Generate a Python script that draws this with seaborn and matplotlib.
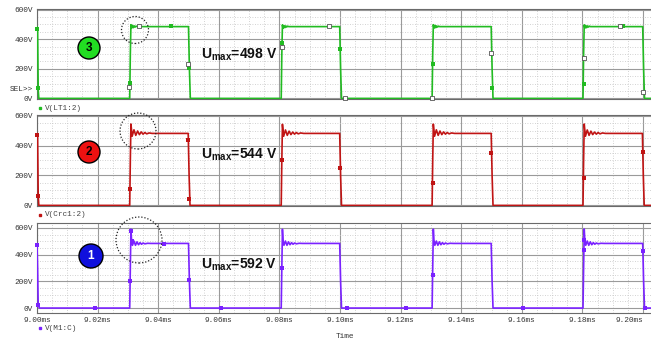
import numpy as np
import pandas as pd
import matplotlib
matplotlib.use("Agg")
import matplotlib.pyplot as plt
import seaborn as sns
from matplotlib.patches import Ellipse
from matplotlib.lines import Line2D

# ---------------- data (time in ms, voltage in V) ----------------
green_t = [9.0000, 9.0002, 9.0004, 9.0006,
           9.0306, 9.0308, 9.0310, 9.0312, 9.0315, 9.0318, 9.0321, 9.0324, 9.0327, 9.0331, 9.0500, 9.0503, 9.0506,
           9.0806, 9.0808, 9.0810, 9.0812, 9.0815, 9.0818, 9.0821, 9.0824, 9.0827, 9.0831, 9.0999, 9.1002, 9.1005,
           9.1304, 9.1306, 9.1308, 9.1310, 9.1313, 9.1316, 9.1319, 9.1322, 9.1325, 9.1329, 9.1499, 9.1502, 9.1505,
           9.1802, 9.1804, 9.1806, 9.1808, 9.1811, 9.1814, 9.1817, 9.1820, 9.1823, 9.1827, 9.1999, 9.2002, 9.2005, 9.2040]
green_v = [485, 470, 60, 0,
           0, 300, 498, 474, 493, 478, 490, 482, 488, 485, 485, 200, 0,
           0, 300, 497, 474, 492, 478, 490, 482, 488, 485, 485, 200, 0,
           0, 300, 498, 474, 493, 478, 490, 482, 488, 485, 485, 200, 0,
           0, 300, 497, 474, 492, 478, 490, 482, 488, 485, 485, 200, 0, 0]

red_t = [9.0000, 9.0002, 9.0004, 9.0006,
         9.0306, 9.0308, 9.0310, 9.0314, 9.0320, 9.0326, 9.0332, 9.0338, 9.0344, 9.0350, 9.0356, 9.0362, 9.0370, 9.0380, 9.0499, 9.0502, 9.0505,
         9.0806, 9.0808, 9.0810, 9.0814, 9.0820, 9.0826, 9.0832, 9.0838, 9.0844, 9.0850, 9.0856, 9.0862, 9.0870, 9.0880, 9.0999, 9.1002, 9.1005,
         9.1304, 9.1306, 9.1308, 9.1312, 9.1318, 9.1324, 9.1330, 9.1336, 9.1342, 9.1348, 9.1354, 9.1360, 9.1368, 9.1378, 9.1499, 9.1502, 9.1505,
         9.1802, 9.1804, 9.1806, 9.1810, 9.1816, 9.1822, 9.1828, 9.1834, 9.1840, 9.1846, 9.1852, 9.1858, 9.1866, 9.1876, 9.1998, 9.2001, 9.2004, 9.2040]
red_v = [481, 470, 66, 0,
         0, 300, 544, 462, 505, 468, 497, 473, 491, 476, 487, 478, 484, 481, 481, 200, 0,
         0, 300, 542, 462, 504, 468, 496, 473, 490, 476, 487, 478, 484, 481, 481, 200, 0,
         0, 300, 543, 462, 505, 468, 497, 473, 491, 476, 487, 478, 484, 481, 481, 200, 0,
         0, 300, 544, 462, 504, 468, 496, 473, 490, 476, 487, 478, 484, 481, 481, 200, 0, 0]

blue_t = [9.0000, 9.0002, 9.0004, 9.0008,
          9.0306, 9.0308, 9.0310, 9.0312, 9.0315, 9.0320, 9.0325, 9.0330, 9.0335, 9.0340, 9.0345, 9.0350, 9.0356, 9.0365, 9.0376, 9.0500, 9.0503, 9.0506,
          9.0806, 9.0808, 9.0810, 9.0812, 9.0815, 9.0820, 9.0825, 9.0830, 9.0835, 9.0840, 9.0845, 9.0850, 9.0856, 9.0865, 9.0876, 9.0999, 9.1002, 9.1005,
          9.1304, 9.1306, 9.1308, 9.1310, 9.1313, 9.1318, 9.1323, 9.1328, 9.1333, 9.1338, 9.1343, 9.1348, 9.1354, 9.1363, 9.1374, 9.1499, 9.1502, 9.1505,
          9.1802, 9.1804, 9.1806, 9.1808, 9.1811, 9.1816, 9.1821, 9.1826, 9.1831, 9.1836, 9.1841, 9.1846, 9.1852, 9.1861, 9.1872, 9.1999, 9.2002, 9.2005, 9.2040]
blue_v = [485, 300, 20, 0,
          0, 300, 592, 510, 470, 502, 470, 496, 474, 490, 478, 487, 481, 485, 484, 484, 200, 0,
          0, 300, 590, 510, 470, 502, 470, 496, 474, 490, 478, 487, 481, 485, 484, 484, 200, 0,
          0, 300, 591, 510, 470, 502, 470, 496, 474, 490, 478, 487, 481, 485, 484, 484, 200, 0,
          0, 300, 592, 510, 470, 502, 470, 496, 474, 490, 478, 487, 481, 485, 484, 484, 200, 0, 0]

# trace markers (as drawn by the simulator)
green_fill_t = [9.0001, 9.0004, 9.0307, 9.0442, 9.0501, 9.0809, 9.1000, 9.1307, 9.1502, 9.1805, 9.1934]
green_fill_v = [467, 67, 107, 487, 207, 373, 333, 233, 73, 100, 487]
green_open_t = [9.0304, 9.0337, 9.0498, 9.0808, 9.0963, 9.1017, 9.1304, 9.1498, 9.1805, 9.1924, 9.2000]
green_open_v = [80, 490, 233, 347, 487, 0, 0, 307, 273, 487, 40]

red_mark_t = [9.0001, 9.0004, 9.0307, 9.0498, 9.0502, 9.0808, 9.1000, 9.1306, 9.1499, 9.1805, 9.1999]
red_mark_v = [468, 66, 112, 435, 46, 300, 250, 150, 350, 185, 356]

blue_mark_t = [9.0001, 9.0004, 9.0191, 9.0308, 9.0310, 9.0312, 9.0420, 9.0500, 9.0607, 9.0808, 9.1023, 9.1218, 9.1306, 9.1604, 9.1805, 9.1806, 9.1999, 9.2008]
blue_mark_v = [470, 20, 0, 200, 580, 505, 480, 210, 0, 300, 0, 0, 250, 0, 435, 510, 427, 0]

y_ticks = [0, 200, 400, 600]
y_ticklabels = ["0V", "200V", "400V", "600V"]
x_ticks = [9.00, 9.02, 9.04, 9.06, 9.08, 9.10, 9.12, 9.14, 9.16, 9.18, 9.20]
x_ticklabels = ["9.00ms", "9.02ms", "9.04ms", "9.06ms", "9.08ms", "9.10ms",
                "9.12ms", "9.14ms", "9.16ms", "9.18ms", "9.20ms"]
trace_names = ["V(LT1:2)", "V(Crc1:2)", "V(M1:C)"]
umax_labels = ["498 V", "544 V", "592 V"]
circle_numbers = ["3", "2", "1"]

# ---------------- figure ----------------
sns.set_theme(style="white")
plt.rcParams["font.family"] = ["Liberation Sans", "DejaVu Sans"]
plt.rcParams["mathtext.fontset"] = "custom"
plt.rcParams["mathtext.bf"] = "Liberation Sans:bold"
plt.rcParams["mathtext.rm"] = "Liberation Sans"

W, H = 651, 340
fig = plt.figure(figsize=(W / 100, H / 100), dpi=100)
fig.patch.set_facecolor("white")

def fx(x):
    return x / W

def fy(y):
    return 1 - y / H

mono = "Liberation Mono"
tick_fs = 5.6
GREEN = "#22bb22"
RED = "#c01414"
BLUE = "#7a22ff"

left_px, right_px = 37, 656
x0 = 9.0
xmax = x0 + (right_px - left_px) / 3030.0

panel_specs = [
    # (top px, bottom px, ylim)
    (9, 99, (-4, 604)),
    (115, 206, (-4, 604)),
    (223, 313, (-37, 637)),
]
axes = []
for top, bot, yl in panel_specs:
    ax = fig.add_axes([fx(left_px), fy(bot), (right_px - left_px) / W, (bot - top) / H])
    ax.set_xlim(x0, xmax)
    ax.set_ylim(*yl)
    ax.set_facecolor("white")
    ax.set_xticks(x_ticks)
    ax.set_xticks(np.arange(9.000, 9.2041, 0.005), minor=True)
    ax.set_yticks(y_ticks)
    ax.set_yticks(np.arange(0, 601, 50), minor=True)
    ax.grid(which="major", color="#9a9a9a", lw=0.8, ls="-")
    ax.grid(which="minor", color="#c4c4c4", lw=0.6, ls=(0, (1, 2)))
    ax.set_axisbelow(True)
    ax.set_yticklabels(y_ticklabels, fontfamily=mono, fontsize=tick_fs, color="#333333")
    ax.tick_params(axis="both", which="both", length=0, pad=3)
    for s in ax.spines.values():
        s.set_color("#6a6a6a")
        s.set_linewidth(0.8)
    axes.append(ax)

ax3, ax2, ax1 = axes
for ax in (ax3, ax2):
    ax.set_xticklabels([])
ax1.set_xticklabels(x_ticklabels, fontfamily=mono, fontsize=tick_fs, color="#333333")
ax1.get_xticklabels()[-1].set_horizontalalignment("right")

lw = 1.2
df_g = pd.DataFrame({"t": green_t, "v": green_v})
df_r = pd.DataFrame({"t": red_t, "v": red_v})
df_b = pd.DataFrame({"t": blue_t, "v": blue_v})
sns.lineplot(data=df_g, x="t", y="v", ax=ax3, color=GREEN, lw=lw, sort=False, estimator=None, zorder=4)
sns.lineplot(data=df_r, x="t", y="v", ax=ax2, color=RED, lw=lw, sort=False, estimator=None, zorder=4)
sns.lineplot(data=df_b, x="t", y="v", ax=ax1, color=BLUE, lw=lw, sort=False, estimator=None, zorder=4)

sns.scatterplot(x=green_fill_t, y=green_fill_v, ax=ax3, color=GREEN, marker="s", s=6, linewidth=0, zorder=5)
sns.scatterplot(x=green_open_t, y=green_open_v, ax=ax3, facecolor="white", edgecolor="#555555",
                marker="s", s=9, linewidth=0.6, zorder=6)
sns.scatterplot(x=red_mark_t, y=red_mark_v, ax=ax2, color=RED, marker="s", s=6, linewidth=0, zorder=5)
sns.scatterplot(x=blue_mark_t, y=blue_mark_v, ax=ax1, color=BLUE, marker="s", s=6, linewidth=0, zorder=5)
for ax in axes:
    ax.set_xlim(x0, xmax)
    ax.set_xlabel("")
    ax.set_ylabel("")
    for coll in ax.collections:
        coll.set_clip_on(False)

ax3.set_ylim(-4, 604)
ax2.set_ylim(-4, 604)
ax1.set_ylim(-37, 637)

# SEL>> label
fig.text(fx(33), fy(90), "SEL>>", ha="right", va="center", fontfamily=mono, fontsize=tick_fs, color="#333333")

# trace names below each panel
name_pos = [(108, GREEN), (215, RED), (328, BLUE)]
for (yy, col), name in zip(name_pos, trace_names):
    fig.add_artist(Line2D([fx(40)], [fy(yy)], marker="s", markersize=2.0, color=col, lw=0,
                          transform=fig.transFigure))
    fig.text(fx(45), fy(yy), name, ha="left", va="center", fontfamily=mono, fontsize=tick_fs, color="#444444")

fig.text(fx(345), fy(337), "Time", ha="center", va="center", fontfamily=mono, fontsize=tick_fs, color="#333333")

# numbered circles
num_specs = [((89, 48), 11, "#22dd22", "black"),
             ((89, 152), 11, "#ee1111", "black"),
             ((91, 256), 12, "#1010dd", "white")]
for ((cx, cy), r, fc, tc), num in zip(num_specs, circle_numbers):
    fig.add_artist(Ellipse((fx(cx), fy(cy)), 2 * r / W, 2 * r / H, transform=fig.transFigure,
                           facecolor=fc, edgecolor="black", lw=1.0, zorder=10))
    fig.text(fx(cx), fy(cy), num, ha="center", va="center", fontsize=8.5, fontweight="bold",
             color=tc, zorder=11)

# dashed circles around the overshoot peaks
dash_specs = [((135, 30), 13.5), ((138, 131), 18), ((139, 240), 23)]
for (cx, cy), r in dash_specs:
    fig.add_artist(Ellipse((fx(cx), fy(cy)), 2 * r / W, 2 * r / H, transform=fig.transFigure,
                           facecolor="none", edgecolor="#222222", lw=0.9, ls=(0, (1, 1.5)), zorder=10))

# Umax annotations
ann_y = [55, 155, 265]
for yy, lab in zip(ann_y, umax_labels):
    fig.text(fx(201), fy(yy), r"$\mathbf{U}_{\mathbf{max}}$" + "=" + lab, ha="left", va="center",
             fontsize=10, fontweight="bold", color="#111111", zorder=12)

fig.savefig("out.png", dpi=100, facecolor="white")
